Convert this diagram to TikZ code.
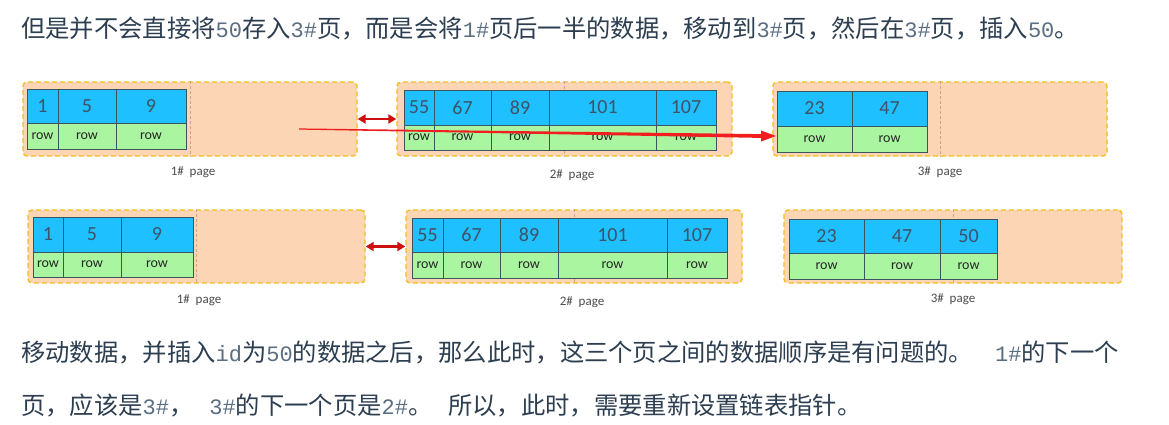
\documentclass[tikz,border=0pt]{standalone}
\usepackage{fontspec}
\setmainfont{Carlito}
\newfontfamily\cjk{Noto Sans CJK SC}
\newfontfamily\monof{Liberation Mono}
\usetikzlibrary{arrows.meta,calc}
\definecolor{pagebg}{RGB}{252,214,180}
\definecolor{pageedge}{RGB}{240,190,30}
\definecolor{cellblue}{RGB}{30,192,255}
\definecolor{cellgreen}{RGB}{170,245,160}
\definecolor{cellline}{RGB}{60,85,95}
\definecolor{numcol}{RGB}{62,82,104}
\definecolor{txt}{RGB}{44,62,80}
\definecolor{codecol}{RGB}{90,110,130}
\definecolor{linkred}{RGB}{205,15,15}
\definecolor{moved}{RGB}{240,30,30}
\definecolor{divcol}{RGB}{205,165,140}
\newcommand\cd[1]{{\monof\fontsize{22}{24}\selectfont\color{codecol}#1}}
\newcommand\tcol[7]{%
  \pgfmathsetmacro\tcW{#3-#2}%
  \pgfmathsetmacro\tcHb{#5-#4}%
  \pgfmathsetmacro\tcHg{#6-#5}%
  \pgfmathsetmacro\tcX{(#2+#3)/2}%
  \pgfmathsetmacro\tcYb{(#4+#5)/2}%
  \pgfmathsetmacro\tcYg{(#5+#6)/2}%
  \node[numcell, minimum width=\tcW pt, minimum height=\tcHb pt] (#1n) at (\tcX,\tcYb) {#7};
  \node[rowcell, minimum width=\tcW pt, minimum height=\tcHg pt] (#1r) at (\tcX,\tcYg) {row};}
\begin{document}
\begin{tikzpicture}[x=1pt,y=-1pt,
  pagebox/.style={draw=pageedge, fill=pagebg, line width=1.4pt, dash pattern=on 5pt off 3pt, rounded corners=4pt, inner sep=0pt},
  divider/.style={draw=divcol, line width=0.6pt, dash pattern=on 3pt off 2pt},
  numcell/.style={draw=cellline, line width=0.9pt, fill=cellblue, inner sep=0pt, text=numcol, font=\fontsize{20}{20}\selectfont},
  rowcell/.style={draw=cellline, line width=0.9pt, fill=cellgreen, inner sep=0pt, text=black!85, font=\fontsize{14}{14}\selectfont},
  plabel/.style={text=black!70, inner sep=0pt, anchor=base, font=\fontsize{13}{13}\selectfont},
  link/.style={draw=linkred, line width=2.2pt, {Triangle[length=8pt,width=9pt]}-{Triangle[length=8pt,width=9pt]}},
  para/.style={anchor=base west, inner sep=0pt, text=txt, font=\cjk\fontsize{24.3}{24.3}\selectfont}
]
\useasboundingbox[fill=white] (0,0) rectangle (1169,424);

% text
\node[para] (t1) at (21,37) {但是并不会直接将\cd{50}存入\cd{3\#}页，而是会将\cd{1\#}页后一半的数据，移动到\cd{3\#}页，然后在\cd{3\#}页，插入\cd{50}。};
\node[para] (t2) at (21,361) {移动数据，并插入\cd{id}为\cd{50}的数据之后，那么此时，这三个页之间的数据顺序是有问题的。\hspace{22pt}\cd{1\#}的下一个};
\node[para] (t3) at (21,414) {页，应该是\cd{3\#}，\hspace{16pt}\cd{3\#}的下一个页是\cd{2\#}。\hspace{16pt}所以，此时，需要重新设置链表指针。};

% row 1 pages
\node[pagebox, minimum width=334pt, minimum height=74pt] (p1) at (190,119) {};
\node[pagebox, minimum width=335pt, minimum height=74pt] (p2) at (564.5,119) {};
\node[pagebox, minimum width=334pt, minimum height=74pt] (p3) at (940,119) {};
\draw[divider] (p1.north) -- (p1.south);
\draw[divider] (p2.north) -- (p2.south);
\draw[divider] (p3.north) -- (p3.south);

\tcol{a1}{27}{58}{89}{123}{149}{1}
\tcol{a2}{58}{116}{89}{123}{149}{5}
\tcol{a3}{116}{186}{89}{123}{149}{9}

\tcol{b1}{404}{434}{90}{125}{150}{55}
\tcol{b2}{434}{491}{90}{125}{150}{67}
\tcol{b3}{491}{549}{90}{125}{150}{89}
\tcol{b4}{549}{656}{90}{125}{150}{101}
\tcol{b5}{656}{716}{90}{125}{150}{107}

\tcol{c1}{777}{852}{91}{126}{152}{23}
\tcol{c2}{852}{927}{91}{126}{152}{47}

\node[plabel] (l1) at (193,175) {1\# \ page};
\node[plabel] (l2) at (572,178) {2\# \ page};
\node[plabel] (l3) at (940,175) {3\# \ page};

\draw[link] (p1.east) -- (p2.west);
\coordinate (ms) at (299,129);
\coordinate (me) at (776,136);
\fill[moved] ($(ms)+(0,-0.6)$) -- ($(me)+(-15,-1.9)$) -- ($(me)+(-15,-5.5)$) -- (me)
  -- ($(me)+(-15,5.5)$) -- ($(me)+(-15,1.9)$) -- ($(ms)+(0,0.6)$) -- cycle;

% row 2 pages
\node[pagebox, minimum width=337pt, minimum height=73pt] (q1) at (196.5,246.5) {};
\node[pagebox, minimum width=336pt, minimum height=73pt] (q2) at (574,246.5) {};
\node[pagebox, minimum width=338pt, minimum height=73pt] (q3) at (953,246.5) {};
\draw[divider] (q1.north) -- (q1.south);
\draw[divider] (q2.north) -- (q2.south);
\draw[divider] (q3.north) -- (q3.south);

\tcol{d1}{33}{63}{217}{252}{277}{1}
\tcol{d2}{63}{121}{217}{252}{277}{5}
\tcol{d3}{121}{193}{217}{252}{277}{9}

\tcol{e1}{412}{443}{218}{252}{278}{55}
\tcol{e2}{443}{500}{218}{252}{278}{67}
\tcol{e3}{500}{558}{218}{252}{278}{89}
\tcol{e4}{558}{667}{218}{252}{278}{101}
\tcol{e5}{667}{727}{218}{252}{278}{107}

\tcol{f1}{789}{864}{219}{253}{279}{23}
\tcol{f2}{864}{940}{219}{253}{279}{47}
\tcol{f3}{940}{997}{219}{253}{279}{50}

\node[plabel] (m1) at (199,303) {1\# \ page};
\begin{scope}
\clip (0,0) rectangle (1169,306.5);
\node[plabel] (m2) at (582,305.5) {2\# \ page};
\end{scope}
\node[plabel] (m3) at (953,302) {3\# \ page};

\draw[link] (q1.east) -- (q2.west);
\end{tikzpicture}
\end{document}
